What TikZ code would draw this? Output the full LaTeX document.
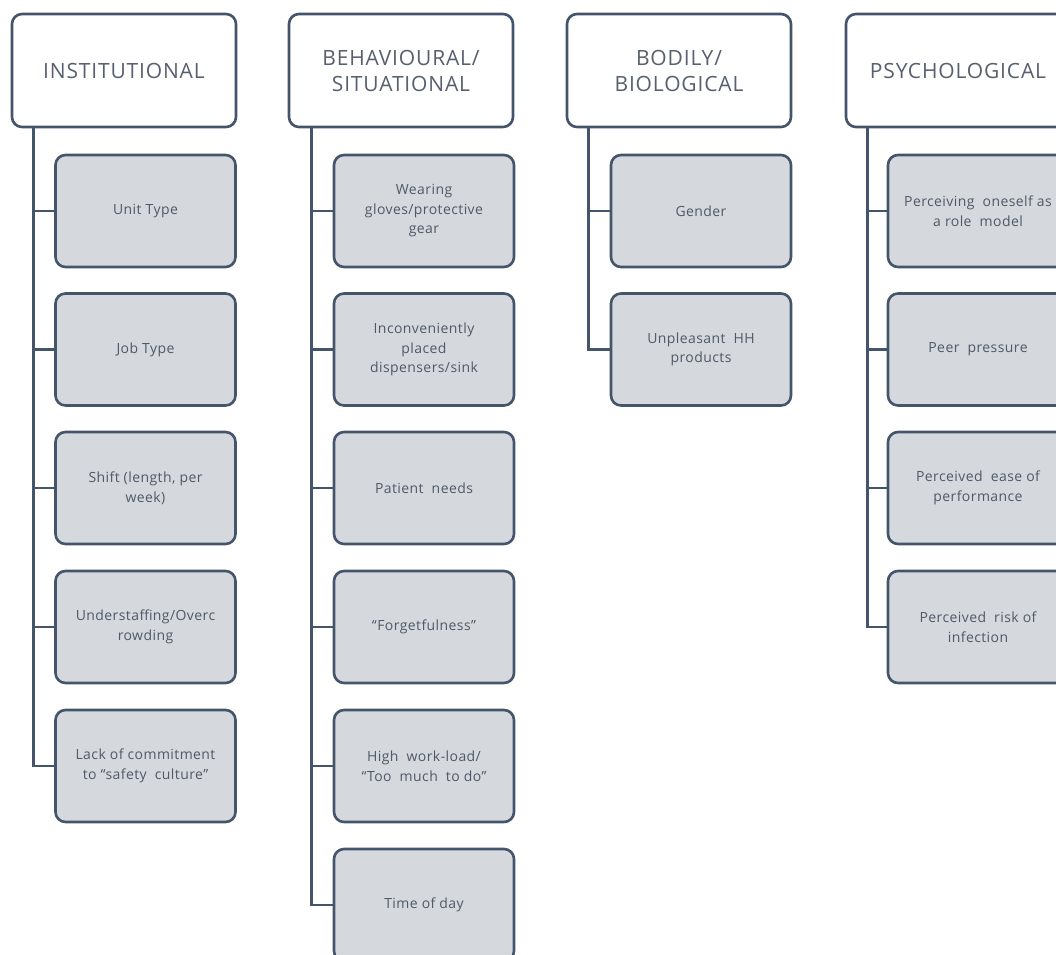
\documentclass[tikz,border=0pt]{standalone}
\usepackage{fontspec}
\setmainfont{Open Sans}
\newfontfamily\headfont[LetterSpace=4]{Open Sans}
\newfontfamily\itemfont[LetterSpace=3]{Open Sans}
\usetikzlibrary{calc}
\definecolor{framec}{HTML}{44546A}
\definecolor{itemfill}{HTML}{D5D9DE}
\definecolor{headtext}{HTML}{56606F}
\definecolor{itemtext}{HTML}{4F5967}
\tikzset{
  header/.style={draw=framec, line width=2.6pt, rounded corners=10pt, fill=white,
    minimum width=224pt, minimum height=113pt, inner sep=0pt, align=center,
    text=headtext, font=\headfont\fontsize{21}{26}\selectfont},
  item/.style={draw=framec, line width=2.6pt, rounded corners=10pt, fill=itemfill,
    minimum width=180pt, minimum height=112pt, inner sep=0pt, align=center,
    text=itemtext, font=\itemfont\fontsize{14}{19.5}\selectfont},
  trunk/.style={draw=framec, line width=2.6pt},
}
\begin{document}
\begin{tikzpicture}[x=1pt,y=-1pt]
\useasboundingbox (0,0) rectangle (1056,954);
\clip (0,0) rectangle (1056,954);

% ---- column 1: institutional
\node[header] (h1) at (124,70.5) {INSTITUTIONAL};
\node[item] (a1) at (145.5,211) {Unit Type};
\node[item] (a2) at (145.5,349.5) {Job Type};
\node[item] (a3) at (145.5,488) {Shift (length,\ per\\week)};
\node[item] (a4) at (145.5,627) {Understaffing/Overc\\rowding};
\node[item] (a5) at (145.5,766) {Lack of commitment\\to “safety\ \ culture”};
\coordinate (t1) at ($(h1.south west)+(23,0)$);
\draw[trunk] (t1) |- (a5.west);
\foreach \n in {a1,a2,a3,a4} \draw[trunk] (\n.west) -- (\n.west -| t1);

% ---- column 2: behavioural / situational
\node[header] (h2) at (401,70.5) {BEHAVIOURAL/\\SITUATIONAL};
\node[item] (b1) at (424,211) {Wearing\\gloves/protective\\gear};
\node[item] (b2) at (424,349.5) {Inconveniently\\placed\\dispensers/sink};
\node[item] (b3) at (424,488) {Patient\ \ needs};
\node[item] (b4) at (424,627) {“Forgetfulness”};
\node[item] (b5) at (424,766) {High\ \ work-load/\\“Too\ \ much\ \ to do”};
\node[item] (b6) at (424,905) {Time of day};
\coordinate (t2) at ($(h2.south west)+(24,0)$);
\draw[trunk] (t2) |- (b6.west);
\foreach \n in {b1,b2,b3,b4,b5} \draw[trunk] (\n.west) -- (\n.west -| t2);

% ---- column 3: bodily / biological
\node[header] (h3) at (679,70.5) {BODILY/\\BIOLOGICAL};
\node[item] (c1) at (701,211) {Gender};
\node[item] (c2) at (701,349.5) {Unpleasant\ \ HH\\products};
\coordinate (t3) at ($(h3.south west)+(23,0)$);
\draw[trunk] (t3) |- (c2.west);
\draw[trunk] (c1.west) -- (c1.west -| t3);

% ---- column 4: psychological
\node[header] (h4) at (958,70.5) {PSYCHOLOGICAL};
\node[item] (d1) at (978,211) {Perceiving\ \ oneself as\\a role\ \ model};
\node[item] (d2) at (978,349.5) {Peer\ \ pressure};
\node[item] (d3) at (978,488) {Perceived\ \ ease of\\performance};
\node[item] (d4) at (978,627) {Perceived\ \ risk of\\infection};
\coordinate (t4) at ($(h4.south west)+(23,0)$);
\draw[trunk] (t4) |- (d4.west);
\foreach \n in {d1,d2,d3} \draw[trunk] (\n.west) -- (\n.west -| t4);
\end{tikzpicture}
\end{document}
